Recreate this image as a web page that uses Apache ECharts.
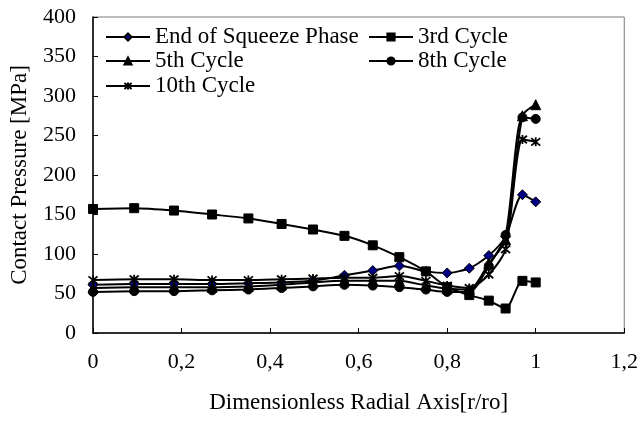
<!DOCTYPE html>
<html>
<head>
<meta charset="utf-8">
<script src="https://cdn.jsdelivr.net/npm/echarts@6/dist/echarts.min.js"></script>
<style>
  html, body { margin: 0; padding: 0; background: #fff; }
  #chart { width: 641px; height: 439px; }
</style>
</head>
<body>
<div id="chart"></div>
<script>
// Radial positions r/ro of the sampled nodes
const radialPos = [0, 0.093, 0.183, 0.269, 0.351, 0.426, 0.497, 0.568, 0.632, 0.692, 0.752, 0.80, 0.85, 0.894, 0.932, 0.97, 1.0];

// Contact pressure [MPa] per stage
const squeezeEnd = [61, 62, 62, 62, 63, 64, 66, 73, 79, 85, 78, 76, 82, 98, 122, 175, 166];
const cycle3 = [157, 158, 155, 150, 145, 138, 131, 123, 111, 96, 78, 58, 48, 41, 31, 66, 64];
const cycle5 = [57, 58, 58, 58, 59, 61, 64, 66, 66, 66, 60, 56, 55, 88, 118, 275, 289];
const cycle8 = [52, 53, 53, 54, 55, 57, 59, 61, 60, 58, 55, 52, 52, 85, 124, 273, 271];
const cycle10 = [67, 68, 68, 67, 67, 68, 69, 70, 70, 72, 66, 60, 57, 74, 106, 245, 242];

const seriesNames = ['End of Squeeze Phase', '3rd Cycle', '5th Cycle', '8th Cycle', '10th Cycle'];
const xTicks = [0, 0.2, 0.4, 0.6, 0.8, 1, 1.2];
const yTicks = [0, 50, 100, 150, 200, 250, 300, 350, 400];

const FONT = '"Liberation Serif", "Times New Roman", serif';
const FS = 22;
const asterisk = 'path://M0,0L10,10M10,0L0,10M5,-1L5,11';

function pairs(ys) { return radialPos.map((x, i) => [x, ys[i]]); }

function lineSeries(name, ys, symbol, fill, size) {
  return {
    name: name,
    type: 'line',
    data: pairs(ys),
    smooth: 0.25,
    symbol: symbol,
    symbolSize: size,
    showSymbol: true,
    lineStyle: { color: '#000', width: 2 },
    itemStyle: { color: fill, borderColor: '#000', borderWidth: symbol === asterisk ? 1.8 : 1 },
    emphasis: { disabled: true },
    animation: false,
    z: 3
  };
}

function legendAt(name, left, top) {
  return {
    data: [name],
    left: left,
    top: top,
    padding: 0,
    itemWidth: 44,
    itemHeight: 9,
    itemGap: 0,
    textStyle: { fontFamily: FONT, fontSize: 23, color: '#000', lineHeight: 24 },
    selectedMode: false
  };
}

const chart = echarts.init(document.getElementById('chart'), null, { renderer: 'canvas' });
chart.setOption({
  backgroundColor: '#fff',
  animation: false,
  grid: {
    left: 92, right: 15, top: 17, bottom: 106,
    show: true, borderColor: '#7a7a7a', borderWidth: 1, backgroundColor: 'transparent'
  },
  legend: [
    legendAt(seriesNames[0], 105, 25),
    legendAt(seriesNames[1], 368, 25),
    legendAt(seriesNames[2], 105, 49),
    legendAt(seriesNames[3], 368, 49),
    legendAt(seriesNames[4], 105, 74)
  ],
  xAxis: {
    type: 'value',
    min: 0, max: 1.2, interval: 0.2,
    name: 'Dimensionless Radial Axis[r/ro]',
    nameLocation: 'middle',
    nameGap: 58,
    nameTextStyle: { fontFamily: FONT, fontSize: 23, color: '#000' },
    axisLine: { show: true, onZero: false, lineStyle: { color: '#000', width: 1.5 } },
    axisTick: { show: true, inside: true, length: 5, lineStyle: { color: '#000' } },
    axisLabel: {
      margin: 18,
      fontFamily: FONT, fontSize: FS, color: '#000',
      formatter: v => xTicks.includes(+v.toFixed(1)) ? String(+v.toFixed(1)).replace('.', ',') : ''
    },
    splitLine: { show: false }
  },
  yAxis: {
    type: 'value',
    min: 0, max: 400, interval: 50,
    name: 'Contact Pressure [MPa]',
    nameLocation: 'middle',
    nameGap: 62,
    nameTextStyle: { fontFamily: FONT, fontSize: 23, color: '#000' },
    axisLine: { show: true, lineStyle: { color: '#000', width: 1.5 } },
    axisTick: { show: true, inside: true, length: 5, lineStyle: { color: '#000' } },
    axisLabel: {
      margin: 17,
      fontFamily: FONT, fontSize: FS, color: '#000',
      formatter: v => yTicks.includes(v) ? String(v) : ''
    },
    splitLine: { show: false }
  },
  series: [
    lineSeries(seriesNames[0], squeezeEnd, 'diamond', '#000080', 10),
    lineSeries(seriesNames[1], cycle3, 'rect', '#000', 9),
    lineSeries(seriesNames[2], cycle5, 'triangle', '#000', 10),
    lineSeries(seriesNames[3], cycle8, 'circle', '#000', 9),
    lineSeries(seriesNames[4], cycle10, asterisk, '#000', 9)
  ]
});
</script>
</body>
</html>
